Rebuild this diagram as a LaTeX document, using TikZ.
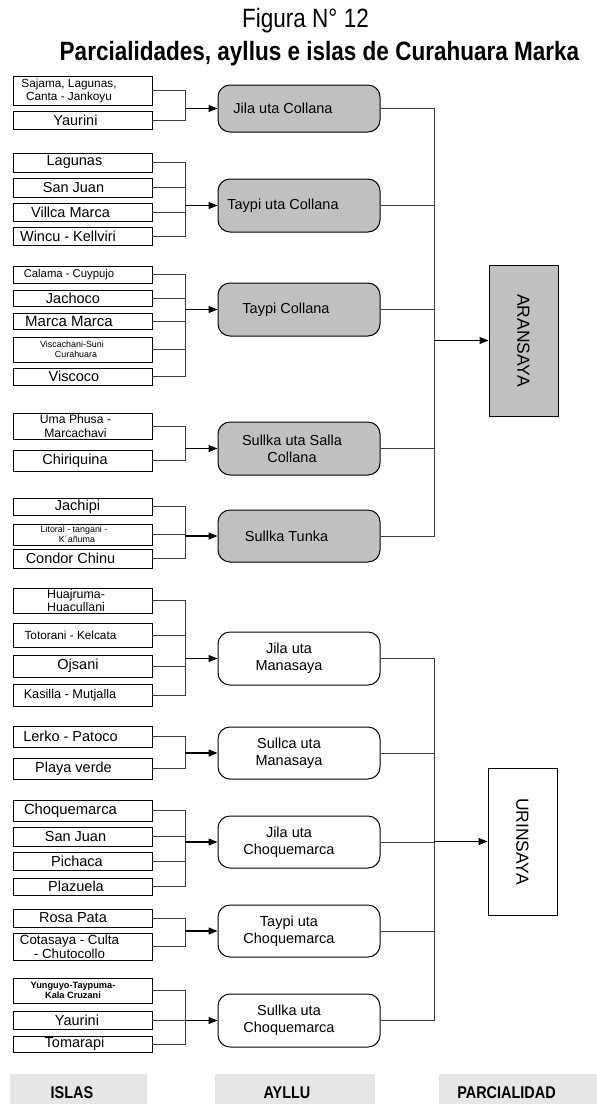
\documentclass[tikz,border=0pt]{standalone}
\usepackage{fontspec}
\setmainfont{Liberation Sans}
\newfontfamily\narrowfam[FakeStretch=0.85]{Liberation Sans}
\usetikzlibrary{arrows.meta}
\definecolor{boxgray}{RGB}{192,192,192}
\definecolor{footgray}{RGB}{230,230,230}
\definecolor{linegray}{RGB}{60,60,60}
\newcommand\fsz[2]{\fontsize{#1}{#2}\selectfont}
\begin{document}
\begin{tikzpicture}[x=1pt,y=-1pt,
  isla/.style={draw=black, line width=0.9pt, minimum width=139pt, inner sep=0pt, fill=white},
  itxt/.style={inner sep=0pt, align=center, font=\fsz{14.5}{16}},
  aybox/.style={draw=black, line width=1pt, rounded corners=12pt, minimum width=162pt, inner sep=0pt},
  aygray/.style={aybox, fill=boxgray},
  aywhite/.style={aybox, fill=white},
  atxt/.style={inner sep=0pt, align=center, font=\fsz{14.5}{17}},
  conn/.style={draw=linegray, line width=0.8pt},
  arr/.style={draw=black, line width=1.1pt, -{Triangle[length=9pt,width=7pt]}},
  parbox/.style={draw=black, line width=1pt, minimum width=69pt, inner sep=0pt},
  foot/.style={fill=footgray, inner sep=0pt, minimum height=30pt},
  ftxt/.style={inner sep=0pt, font=\narrowfam\bfseries\fsz{17}{19}}
]
\useasboundingbox (0,0) rectangle (597,1104);

% Title
\node[anchor=base, inner sep=0pt, font=\narrowfam\fsz{26.5}{30}] (t1) at (305.5,27) {Figura N° 12};
\node[anchor=base, inner sep=0pt, font=\narrowfam\bfseries\fsz{26.5}{30}] (t2) at (319.5,60) {Parcialidades, ayllus e islas de Curahuara Marka};

% Bracket coordinates
\coordinate (b1) at (185,108.5);
\coordinate (b2) at (185,205.5);
\coordinate (b3) at (185,309.5);
\coordinate (b4) at (185,448.5);
\coordinate (b5) at (185,536);
\coordinate (b6) at (185,658.5);
\coordinate (b7) at (185,753);
\coordinate (b8) at (185,842);
\coordinate (b9) at (185,931);
\coordinate (b10) at (185,1020.5);
\coordinate (p1) at (434,340.5);
\coordinate (p2) at (434,841.5);

% Island boxes
\node[isla, minimum height=29pt] (i1a) at (82.5,90.5) {};
\node[isla, minimum height=18pt] (i1b) at (82.5,120) {};
\node[isla, minimum height=19pt] (i2a) at (82.5,162.5) {};
\node[isla, minimum height=19pt] (i2b) at (82.5,187.5) {};
\node[isla, minimum height=18pt] (i2c) at (82.5,212.5) {};
\node[isla, minimum height=18pt] (i2d) at (82.5,236) {};
\node[isla, minimum height=17pt] (i3a) at (82.5,274.5) {};
\node[isla, minimum height=16pt] (i3b) at (82.5,298) {};
\node[isla, minimum height=16pt] (i3c) at (82.5,321) {};
\node[isla, minimum height=25pt] (i3d) at (82.5,349.5) {};
\node[isla, minimum height=17pt] (i3e) at (82.5,376.5) {};
\node[isla, minimum height=26pt] (i4a) at (82.5,426) {};
\node[isla, minimum height=21pt] (i4b) at (82.5,460.5) {};
\node[isla, minimum height=17pt] (i5a) at (82.5,506.5) {};
\node[isla, minimum height=21pt] (i5b) at (82.5,534.5) {};
\node[isla, minimum height=19pt] (i5c) at (82.5,558.5) {};
\node[isla, minimum height=25pt] (i6a) at (82.5,600.5) {};
\node[isla, minimum height=24pt] (i6b) at (82.5,635) {};
\node[isla, minimum height=22pt] (i6c) at (82.5,666) {};
\node[isla, minimum height=22pt] (i6d) at (82.5,695) {};
\node[isla, minimum height=21pt] (i7a) at (82.5,736.5) {};
\node[isla, minimum height=21pt] (i7b) at (82.5,768.5) {};
\node[isla, minimum height=21pt] (i8a) at (82.5,810.5) {};
\node[isla, minimum height=19pt] (i8b) at (82.5,836.5) {};
\node[isla, minimum height=18pt] (i8c) at (82.5,861) {};
\node[isla, minimum height=17pt] (i8d) at (82.5,886.5) {};
\node[isla, minimum height=18pt] (i9a) at (82.5,918) {};
\node[isla, minimum height=27pt] (i9b) at (82.5,946.5) {};
\node[isla, minimum height=25pt] (i10a) at (82.5,990.5) {};
\node[isla, minimum height=18pt] (i10b) at (82.5,1020) {};
\node[isla, minimum height=16pt] (i10c) at (82.5,1044) {};

% Island texts
\node[itxt, font=\fsz{11.8}{13}] (i1at) at (69,90.5) {Sajama, Lagunas,\\Canta - Jankoyu};
\node[itxt] (i1bt) at (75.5,120) {Yaurini};
\node[itxt] (i2at) at (74.5,162.5) {Lagunas};
\node[itxt] (i2bt) at (73.5,187.5) {San Juan};
\node[itxt] (i2ct) at (70.5,212.5) {Villca Marca};
\node[itxt] (i2dt) at (68,236) {Wincu - Kellviri};
\node[itxt, font=\fsz{11.3}{13}] (i3at) at (69,274.5) {Calama - Cuypujo};
\node[itxt] (i3bt) at (73,298) {Jachoco};
\node[itxt, font=\fsz{15}{17}] (i3ct) at (69,321) {Marca Marca};
\node[itxt, font=\fsz{8.9}{10.5}] (i3dt) at (72,349.5) {Viscachani-Suni\\\hspace*{8pt}Curahuara};
\node[itxt] (i3et) at (74,376.5) {Viscoco};
\node[itxt, font=\fsz{12.2}{13.5}] (i4at) at (75.5,426) {Uma Phusa -\\Marcachavi};
\node[itxt] (i4bt) at (75,460.5) {Chiriquina};
\node[itxt] (i5at) at (77.5,506.5) {Jachipi};
\node[itxt, font=\fsz{8.9}{10.5}] (i5bt) at (74,534.5) {Litoral - tangani -\\\hspace*{6pt}K´añuma};
\node[itxt] (i5ct) at (70.5,558.5) {Condor Chinu};
\node[itxt, font=\fsz{12.4}{13.5}] (i6at) at (76,600.5) {Huajruma-\\Huacullani};
\node[itxt, font=\fsz{11.8}{13}] (i6bt) at (70.5,635) {Totorani - Kelcata};
\node[itxt] (i6ct) at (78,666) {Ojsani};
\node[itxt, font=\fsz{12.7}{14}] (i6dt) at (70,695) {Kasilla - Mutjalla};
\node[itxt] (i7at) at (70.5,736.5) {Lerko - Patoco};
\node[itxt] (i7bt) at (73.5,768.5) {Playa verde};
\node[itxt, font=\fsz{14.8}{16}] (i8at) at (70.5,810.5) {Choquemarca};
\node[itxt] (i8bt) at (75.5,836.5) {San Juan};
\node[itxt] (i8ct) at (77,861) {Pichaca};
\node[itxt] (i8dt) at (76,886.5) {Plazuela};
\node[itxt] (i9at) at (73,918) {Rosa Pata};
\node[itxt, font=\fsz{13.3}{14.5}] (i9bt) at (69.5,946.5) {Cotasaya - Culta\\- Chutocollo};
\node[itxt, font=\bfseries\fsz{9.2}{10.5}] (i10at) at (73,990.5) {Yunguyo-Taypuma-\\Kala Cruzani};
\node[itxt] (i10bt) at (77,1020) {Yaurini};
\node[itxt] (i10ct) at (74.5,1044) {Tomarapi};

% Ayllu boxes
\node[aygray, minimum height=47pt] (A1) at (299,108.5) {};
\node[aygray, minimum height=53pt] (A2) at (299,205.5) {};
\node[aygray, minimum height=53pt] (A3) at (299,309.5) {};
\node[aygray, minimum height=53pt] (A4) at (299,448.5) {};
\node[aygray, minimum height=52pt] (A5) at (299,536) {};
\node[aywhite, minimum height=53pt] (A6) at (299,658.5) {};
\node[aywhite, minimum height=52pt] (A7) at (299,753) {};
\node[aywhite, minimum height=52pt] (A8) at (299,842) {};
\node[aywhite, minimum height=52pt] (A9) at (299,931) {};
\node[aywhite, minimum height=53pt] (A10) at (299,1020.5) {};

\node[atxt] (A1t) at (283,108.5) {Jila uta Collana};
\node[atxt] (A2t) at (283,205.5) {Taypi uta Collana};
\node[atxt] (A3t) at (286,309.5) {Taypi Collana};
\node[atxt] (A4t) at (292,448.5) {Sullka uta Salla\\Collana};
\node[atxt] (A5t) at (286.5,536) {Sullka Tunka};
\node[atxt] (A6t) at (289,658.5) {Jila uta\\Manasaya};
\node[atxt] (A7t) at (289,753) {Sullca uta\\Manasaya};
\node[atxt] (A8t) at (289,842) {Jila uta\\Choquemarca};
\node[atxt] (A9t) at (289,931) {Taypi uta\\Choquemarca};
\node[atxt] (A10t) at (289,1020.5) {Sullka uta\\Choquemarca};

% Parcialidad boxes
\node[parbox, fill=boxgray, minimum height=151pt] (P1) at (523.5,340.5) {};
\node[parbox, fill=white, minimum height=147pt] (P2) at (522.5,841.5) {};
\node[inner sep=0pt, rotate=-90, font=\fsz{17.5}{19}] (P1t) at (523.5,340.5) {ARANSAYA};
\node[inner sep=0pt, rotate=-90, font=\fsz{17.5}{19}] (P2t) at (522.5,841.5) {URINSAYA};

% Island -> ayllu connectors
\foreach \i in {i1a,i1b} \draw[conn] (\i.east) -| (b1);
\foreach \i in {i2a,i2b,i2c,i2d} \draw[conn] (\i.east) -| (b2);
\foreach \i in {i3a,i3b,i3c,i3d,i3e} \draw[conn] (\i.east) -| (b3);
\foreach \i in {i4a,i4b} \draw[conn] (\i.east) -| (b4);
\foreach \i in {i5a,i5b,i5c} \draw[conn] (\i.east) -| (b5);
\foreach \i in {i6a,i6b,i6c,i6d} \draw[conn] (\i.east) -| (b6);
\foreach \i in {i7a,i7b} \draw[conn] (\i.east) -| (b7);
\foreach \i in {i8a,i8b,i8c,i8d} \draw[conn] (\i.east) -| (b8);
\foreach \i in {i9a,i9b} \draw[conn] (\i.east) -| (b9);
\foreach \i in {i10a,i10b,i10c} \draw[conn] (\i.east) -| (b10);
\draw[arr] (b1) -- (A1.west);
\draw[arr] (b2) -- (A2.west);
\draw[arr] (b3) -- (A3.west);
\draw[arr] (b4) -- (A4.west);
\draw[arr] (b5) -- (A5.west);
\draw[arr] (b6) -- (A6.west);
\draw[arr] (b7) -- (A7.west);
\draw[arr] (b8) -- (A8.west);
\draw[arr] (b9) -- (A9.west);
\draw[arr] (b10) -- (A10.west);

% Ayllu -> parcialidad connectors
\foreach \a in {A1,A2,A3,A4,A5} \draw[conn] (\a.east) -| (p1);
\foreach \a in {A6,A7,A8,A9,A10} \draw[conn] (\a.east) -| (p2);
\draw[arr] (p1) -- (P1.west);
\draw[arr] (p2) -- (P2.west);

% Footer
\node[foot, minimum width=137.5pt] (f1) at (78.25,1089) {};
\node[foot, minimum width=160pt] (f2) at (295,1089) {};
\node[foot, minimum width=158pt] (f3) at (518,1089) {};
\node[ftxt] (f1t) at (72,1093) {ISLAS};
\node[ftxt] (f2t) at (287,1093) {AYLLU};
\node[ftxt] (f3t) at (506.5,1093) {PARCIALIDAD};
\end{tikzpicture}
\end{document}
